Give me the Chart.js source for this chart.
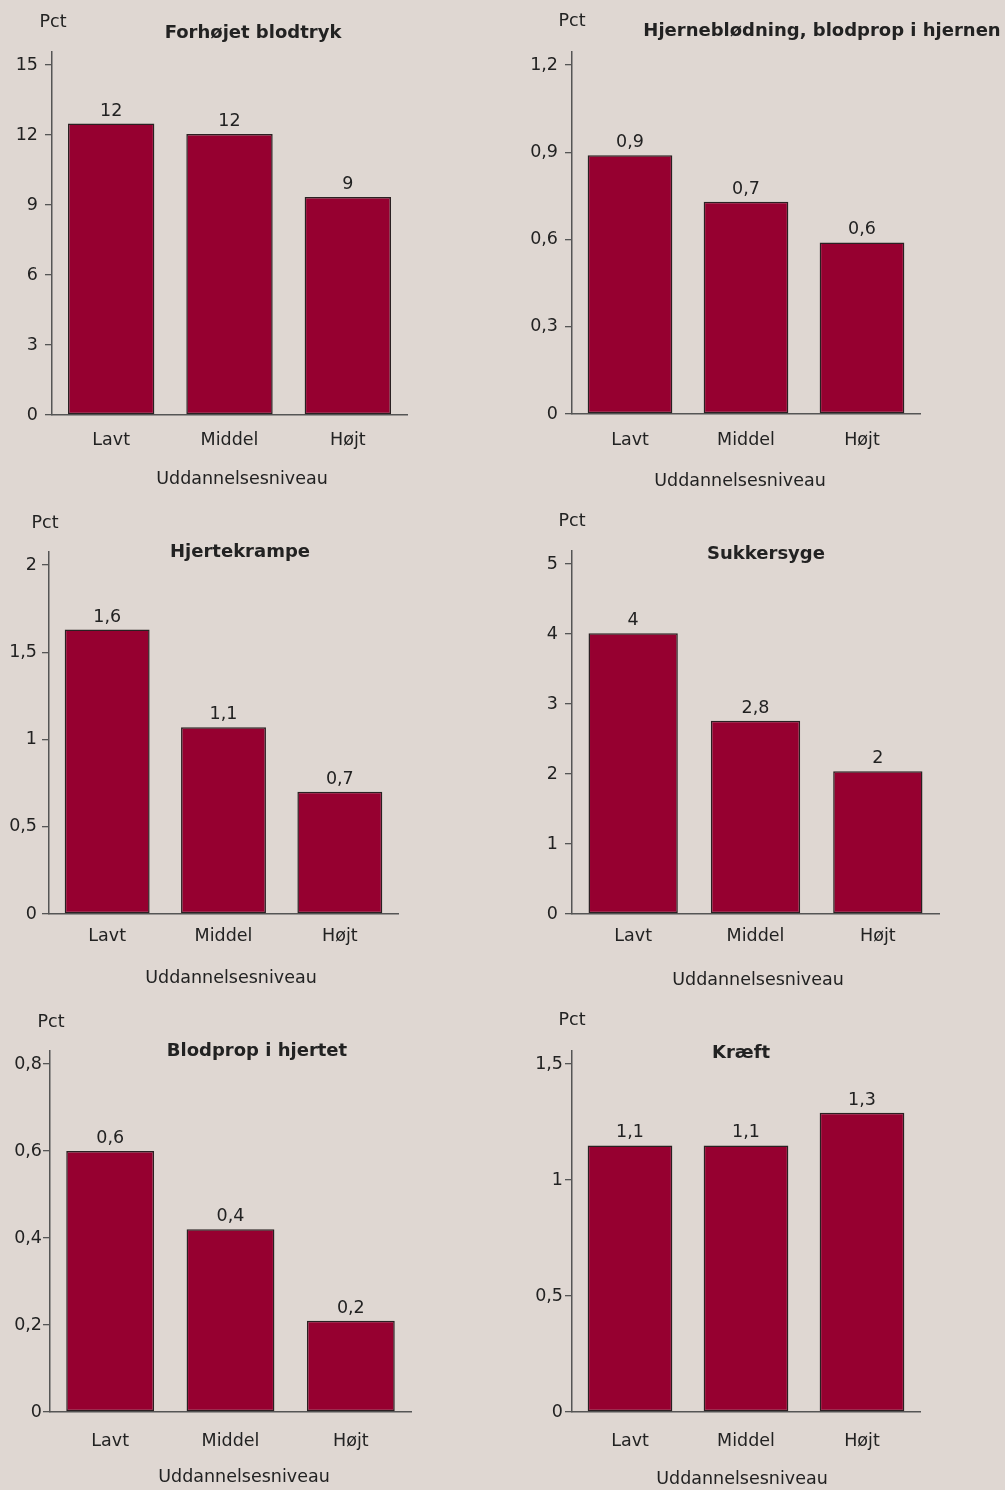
<!DOCTYPE html>
<html>
<head>
<meta charset="utf-8">
<script src="https://cdn.jsdelivr.net/npm/chart.js@4.4.0/dist/chart.umd.min.js"></script>
<style>
  body { margin: 0; background: #dfd7d2; }
  #wrap { position: relative; width: 1005px; height: 1490px; }
  #wrap canvas { position: absolute; left: 0; top: 0; }
</style>
</head>
<body>
<div id="wrap"></div>
<script>
// education levels on every x axis
const categories = ['Lavt', 'Middel', 'Højt'];

// share in pct per education level
const blodtryk = [12.49, 12.04, 9.34];
const hjerne = [0.89, 0.73, 0.59];
const hjertekrampe = [1.63, 1.07, 0.70];
const sukkersyge = [4.01, 2.76, 2.04];
const blodpropHjerte = [0.60, 0.42, 0.21];
const kraeft = [1.149, 1.149, 1.29];

// y tick values
const ticksBlodtryk = [0, 3, 6, 9, 12, 15];
const ticksHjerne = [0, 0.3, 0.6, 0.9, 1.2];
const ticksHjertekrampe = [0, 0.5, 1, 1.5, 2];
const ticksSukkersyge = [0, 1, 2, 3, 4, 5];
const ticksBlodpropHjerte = [0, 0.2, 0.4, 0.6, 0.8];
const ticksKraeft = [0, 0.5, 1, 1.5];

const W = 1005, H = 1490;
const Y_W = 45, X_H = 40, OVER = 13;
const BAR = '#960030';
const INK = '#222';
const FONT = 'DejaVu Sans, Verdana, sans-serif';
const SIZE = 17.5;

// one entry per small chart; left/right/top/bottom are the plot edges in page px
const panels = [
  { title: 'Forhøjet blodtryk', data: blodtryk, ticks: ticksBlodtryk, dec: 0,
    left: 52, right: 407, top: 65, bottom: 415, yPad: 7, xPad: 15,
    pct: [53, 22], head: [253, 33], axis: [242, 479] },
  { title: 'Hjerneblødning, blodprop i hjernen', data: hjerne, ticks: ticksHjerne, dec: 1,
    left: 572, right: 920, top: 65, bottom: 414, yPad: 7, xPad: 16,
    pct: [572, 21], head: [822, 31], axis: [740, 481] },
  { title: 'Hjertekrampe', data: hjertekrampe, ticks: ticksHjertekrampe, dec: 1,
    left: 49, right: 398, top: 565, bottom: 914, yPad: 5, xPad: 12,
    pct: [45, 523], head: [240, 552], axis: [231, 978] },
  { title: 'Sukkersyge', data: sukkersyge, ticks: ticksSukkersyge, dec: 1,
    left: 572, right: 939, top: 564, bottom: 914, yPad: 7, xPad: 12,
    pct: [572, 521], head: [766, 554], axis: [758, 980] },
  { title: 'Blodprop i hjertet', data: blodpropHjerte, ticks: ticksBlodpropHjerte, dec: 1,
    left: 50, right: 411, top: 1064, bottom: 1412, yPad: 1, xPad: 19,
    pct: [51, 1022], head: [257, 1051], axis: [244, 1477] },
  { title: 'Kræft', data: kraeft, ticks: ticksKraeft, dec: 1,
    left: 572, right: 920, top: 1064, bottom: 1412, yPad: 2, xPad: 19,
    pct: [572, 1020], head: [741, 1053], axis: [742, 1479] }
];

const comma = v => String(v).replace('.', ',');
function fmt(v, dec) {
  if (dec === 0) return String(Math.round(v));
  return comma(parseFloat(v.toFixed(dec)));
}

// titles, "Pct", axis title and the numbers over the bars
const panelText = {
  id: 'panelText',
  afterDraw(chart) {
    const p = chart.options.plugins.panelText.panel;
    const ctx = chart.ctx;
    ctx.save();
    ctx.fillStyle = INK;
    ctx.textAlign = 'center';
    ctx.textBaseline = 'middle';
    ctx.font = SIZE + 'px ' + FONT;
    ctx.fillText('Pct', p.pct[0], p.pct[1]);
    ctx.fillText('Uddannelsesniveau', p.axis[0], p.axis[1]);
    ctx.font = 'bold 18px ' + FONT;
    ctx.fillText(p.title, p.head[0], p.head[1]);
    ctx.font = SIZE + 'px ' + FONT;
    ctx.textBaseline = 'alphabetic';
    chart.getDatasetMeta(0).data.forEach((bar, i) => {
      ctx.fillText(fmt(p.data[i], p.dec), bar.x, bar.y - 8);
    });
    ctx.restore();
  }
};

const wrap = document.getElementById('wrap');
panels.forEach(p => {
  const canvas = document.createElement('canvas');
  canvas.width = W;
  canvas.height = H;
  wrap.appendChild(canvas);

  const topTick = p.ticks[p.ticks.length - 1];
  const span = p.bottom - p.top;
  const yMax = topTick * (span + OVER) / span;

  new Chart(canvas, {
    type: 'bar',
    data: {
      labels: categories,
      datasets: [{
        data: p.data,
        backgroundColor: BAR,
        borderColor: '#2a2022',
        borderWidth: 1.5,
        borderSkipped: false,
        barPercentage: 0.73,
        categoryPercentage: 1
      }]
    },
    options: {
      responsive: false,
      maintainAspectRatio: false,
      animation: false,
      layout: {
        padding: {
          left: p.left - Y_W,
          right: W - p.right,
          top: p.top - OVER,
          bottom: H - p.bottom - X_H
        }
      },
      scales: {
        x: {
          afterFit: s => { s.height = X_H; },
          grid: { display: true, drawOnChartArea: false, drawTicks: false },
          border: { display: true, color: '#555', width: 1.5 },
          ticks: { color: INK, font: { family: FONT, size: SIZE }, padding: p.xPad }
        },
        y: {
          min: 0,
          max: yMax,
          afterFit: s => { s.width = Y_W; },
          afterBuildTicks: s => { s.ticks = p.ticks.map(v => ({ value: v })); },
          grid: { display: true, drawOnChartArea: false, drawTicks: true, tickLength: 7, color: '#555', lineWidth: 1.3 },
          border: { display: true, color: '#555', width: 1.5 },
          ticks: { color: INK, font: { family: FONT, size: SIZE }, padding: p.yPad, callback: v => comma(v) }
        }
      },
      plugins: {
        legend: { display: false },
        tooltip: { enabled: false },
        panelText: { panel: p }
      }
    },
    plugins: [panelText]
  });
});
</script>
</body>
</html>
